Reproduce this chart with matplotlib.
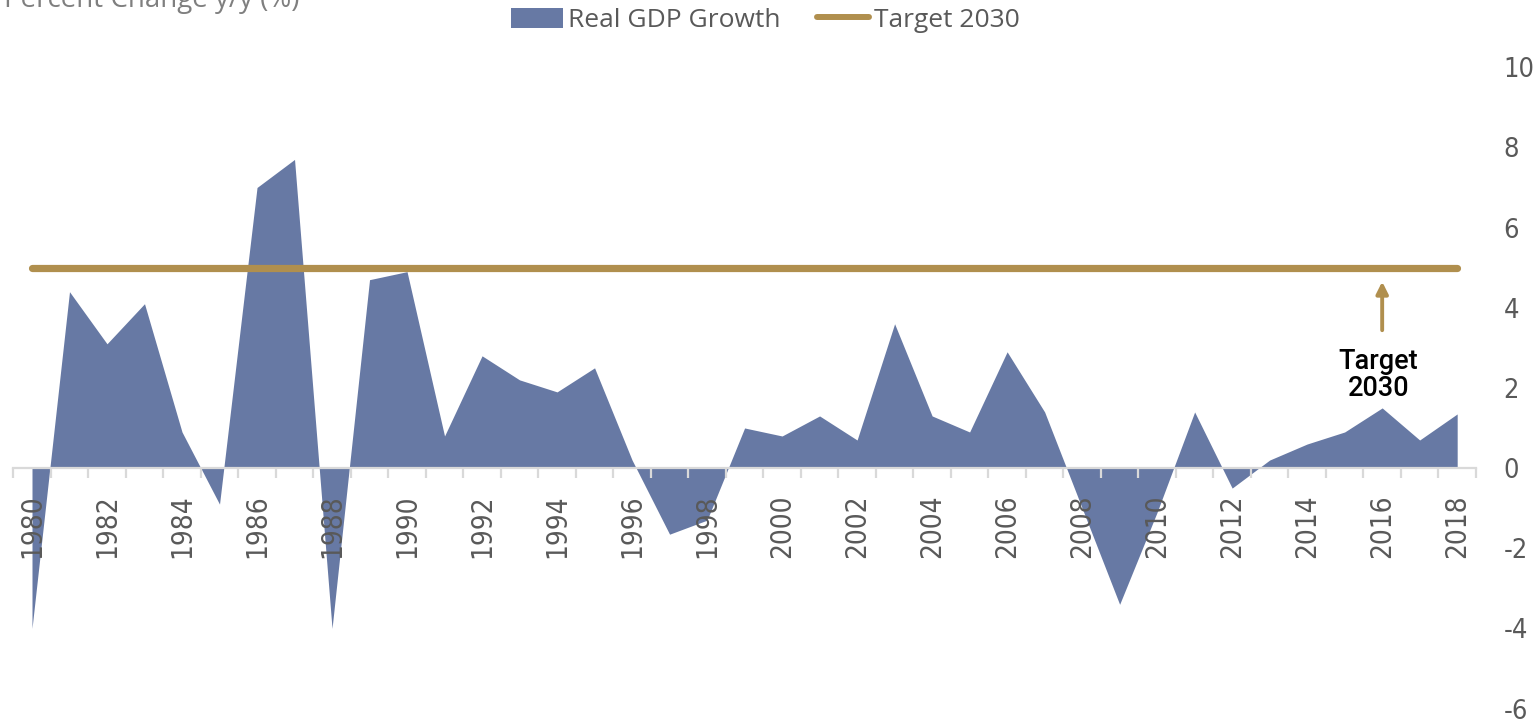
import numpy as np
import matplotlib.pyplot as plt
from matplotlib.patches import Patch
from matplotlib.lines import Line2D

# Datos
years = list(range(1980, 2019))
gdp_growth = [-4.0, 4.4, 3.1, 4.1, 0.9, -0.9, 7.0, 7.7, -4.0, 4.7,
              4.9, 0.8, 2.8, 2.2, 1.9, 2.5, 0.2, -1.65, -1.3, 1.0,
              0.8, 1.3, 0.7, 3.6, 1.3, 0.9, 2.9, 1.4, -1.0, -3.4,
              -1.1, 1.4, -0.5, 0.2, 0.6, 0.9, 1.5, 0.7, 1.35]
target_2030 = [5.0] * len(years)

year_labels = [str(y) for y in years if y % 2 == 0]
y_ticks = [-6, -4, -2, 0, 2, 4, 6, 8, 10]

fill_color = '#6779A4'
gold = '#B08F4E'
grey_axis = '#D9D9D9'
grey_text = '#595959'

fig = plt.figure(figsize=(15.4, 7.23), dpi=100)
ax = fig.add_axes([0.0086, 0.02, 0.9498, 0.887])

ax.fill_between(years, gdp_growth, 0, color=fill_color, linewidth=0)
ax.plot(years, target_2030, color=gold, lw=5.2, solid_capstyle='round')

# Flecha y etiqueta del objetivo
ax.annotate('', xy=(2016, 4.72), xytext=(2016, 3.37),
            arrowprops=dict(arrowstyle='-|>,head_width=0.35,head_length=0.7',
                            color=gold, lw=2.8))
ax.text(2015.9, 3.0, 'Target\n2030', ha='center', va='top', fontsize=19.5,
        family='Roboto', weight='medium', color='black', linespacing=1.0)

ax.set_xlim(1979.5, 2018.5)
ax.set_ylim(-6, 10)

for s in ['top', 'left', 'right']:
    ax.spines[s].set_visible(False)
ax.spines['bottom'].set_position(('data', 0))
ax.spines['bottom'].set_color(grey_axis)
ax.spines['bottom'].set_linewidth(1.6)

tick_font = dict(family='DejaVu Sans', stretch='condensed', weight='light')

ax.set_xticks([y for y in years if y % 2 == 0])
ax.set_xticklabels(year_labels, rotation=90, fontsize=20, color=grey_text,
                   **tick_font)
ax.set_xticks(np.arange(1979.5, 2019.5, 1.0), minor=True)
ax.tick_params(axis='x', which='major', length=0, pad=19)
ax.tick_params(axis='x', which='minor', length=7.5, width=1.6,
               color=grey_axis, direction='out')

ax.yaxis.tick_right()
ax.set_yticks(y_ticks)
ax.set_yticklabels([str(v) for v in y_ticks], fontsize=19.5, color=grey_text,
                   **tick_font)
ax.tick_params(axis='y', length=0, pad=20)

fig.text(300 / 1540, 1 - 7 / 723, 'Percent Change y/y (%)', ha='right',
         va='baseline', fontsize=20, color='#7F7F7F', family='Open Sans')

handles = [Patch(facecolor=fill_color, edgecolor='none', label='Real GDP Growth'),
           Line2D([0], [0], color=gold, lw=4.3, solid_capstyle='round',
                  label='Target 2030')]
fig.legend(handles=handles, loc='center', bbox_to_anchor=(0.497, 0.972),
           ncol=2, frameon=False, prop={'family': 'Open Sans', 'size': 19},
           labelcolor=grey_text, handlelength=1.95, handleheight=0.8,
           handletextpad=0.2, columnspacing=1.4)

plt.savefig('out.png', dpi=100)
